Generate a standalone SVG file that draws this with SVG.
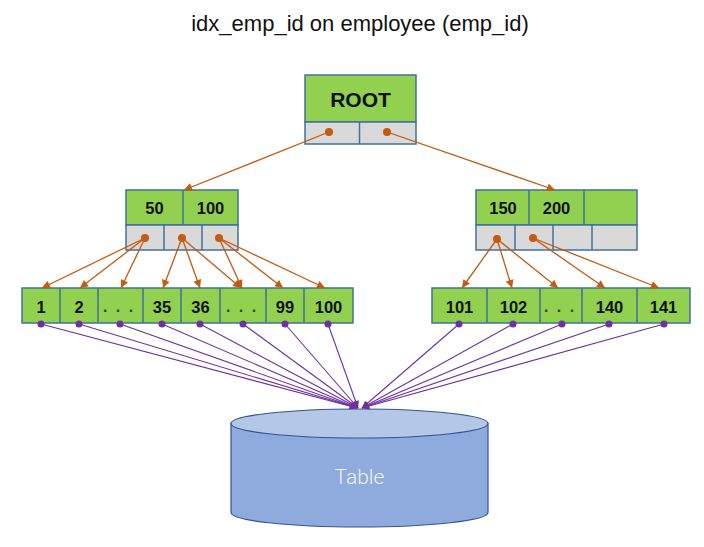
<svg xmlns="http://www.w3.org/2000/svg" width="704" height="547" viewBox="0 0 704 547">
<style>
.g{fill:#92d050;stroke:#41719c;stroke-width:1.5}
.k{fill:#d9d9d9;stroke:#41719c;stroke-width:1.5}
.dv{stroke:#41719c;stroke-width:1.5}
.t{font-family:"Liberation Sans",Arial,sans-serif;font-weight:bold;fill:#111;text-anchor:middle}
.lf{font-size:16.5px}
.dots{font-family:"Liberation Sans",Arial,sans-serif;font-weight:bold;font-size:16px;fill:#2e4a22;letter-spacing:2px;text-anchor:middle}
.o{stroke:#c55a11;stroke-width:1.3;fill:none;marker-end:url(#ao)}
.p{stroke:#7030a0;stroke-width:1.1;fill:none;marker-end:url(#ap)}
.od{fill:#c55a11}
.pd{fill:#7030a0}
</style>
<defs>
<marker id="ao" viewBox="0 0 10 10" refX="10" refY="5" markerWidth="9" markerHeight="8" markerUnits="userSpaceOnUse" orient="auto"><path d="M0,0 L10,5 L0,10 z" fill="#c55a11"/></marker>
<marker id="ap" viewBox="0 0 10 10" refX="10" refY="5" markerWidth="8" markerHeight="7" markerUnits="userSpaceOnUse" orient="auto"><path d="M0,0 L10,5 L0,10 z" fill="#7030a0"/></marker>
</defs>
<rect width="704" height="547" fill="#fff"/>
<text x="360" y="31" font-family="'Liberation Sans',Arial,sans-serif" font-size="22" fill="#111" text-anchor="middle">idx_emp_id on employee (emp_id)</text>

<g id="table">
<path d="M231,423.5 L231,512.5 A128.5,14.5 0 0 0 488,512.5 L488,423.5 Z" fill="#8faadc" stroke="#2f5597" stroke-width="1.2"/>
<ellipse cx="359.5" cy="423.5" rx="128.5" ry="14.5" fill="#b4c7e7" stroke="#2f5597" stroke-width="1.2"/>
<text x="359.5" y="484" font-family="Roboto,'Liberation Sans',sans-serif" font-weight="300" font-size="21" fill="#eef2fa" text-anchor="middle">Table</text>
</g>

<g id="root">
<rect class="g" x="305" y="75" width="111" height="47"/>
<rect class="k" x="305" y="122" width="111" height="22"/>
<line class="dv" x1="359.5" y1="122" x2="359.5" y2="144"/>
<text class="t" x="360.5" y="107" font-size="21">ROOT</text>
</g>

<g id="mid-left">
<rect class="g" x="126" y="190" width="112" height="35"/>
<rect class="k" x="126" y="225" width="112" height="25"/>
<line class="dv" x1="183" y1="190" x2="183" y2="225"/>
<line class="dv" x1="164" y1="225" x2="164" y2="250"/>
<line class="dv" x1="202" y1="225" x2="202" y2="250"/>
<text class="t lf" x="154.5" y="214">50</text>
<text class="t lf" x="210.5" y="214">100</text>
</g>

<g id="mid-right">
<rect class="g" x="476" y="190" width="161" height="35"/>
<rect class="k" x="476" y="225" width="161" height="25"/>
<line class="dv" x1="529" y1="190" x2="529" y2="225"/>
<line class="dv" x1="584" y1="190" x2="584" y2="225"/>
<line class="dv" x1="515" y1="225" x2="515" y2="250"/>
<line class="dv" x1="553" y1="225" x2="553" y2="250"/>
<line class="dv" x1="592" y1="225" x2="592" y2="250"/>
<text class="t lf" x="503" y="214">150</text>
<text class="t lf" x="556.5" y="214">200</text>
</g>

<g id="leaf-left">
<rect class="g" x="22" y="288" width="331" height="35"/>
<line class="dv" x1="60" y1="288" x2="60" y2="323"/>
<line class="dv" x1="98" y1="288" x2="98" y2="323"/>
<line class="dv" x1="143" y1="288" x2="143" y2="323"/>
<line class="dv" x1="181" y1="288" x2="181" y2="323"/>
<line class="dv" x1="220" y1="288" x2="220" y2="323"/>
<line class="dv" x1="266" y1="288" x2="266" y2="323"/>
<line class="dv" x1="304" y1="288" x2="304" y2="323"/>
<text class="t lf" x="41" y="313">1</text>
<text class="t lf" x="79" y="313">2</text>
<text class="dots" x="119" y="312">. . .</text>
<text class="t lf" x="162" y="313">35</text>
<text class="t lf" x="200.5" y="313">36</text>
<text class="dots" x="242" y="312">. . .</text>
<text class="t lf" x="285" y="313">99</text>
<text class="t lf" x="328.5" y="313">100</text>
</g>

<g id="leaf-right">
<rect class="g" x="432" y="288" width="258" height="35"/>
<line class="dv" x1="487" y1="288" x2="487" y2="323"/>
<line class="dv" x1="540" y1="288" x2="540" y2="323"/>
<line class="dv" x1="582" y1="288" x2="582" y2="323"/>
<line class="dv" x1="637" y1="288" x2="637" y2="323"/>
<text class="t lf" x="459.5" y="313">101</text>
<text class="t lf" x="513.5" y="313">102</text>
<text class="dots" x="560" y="312">. . .</text>
<text class="t lf" x="609.5" y="313">140</text>
<text class="t lf" x="663.5" y="313">141</text>
</g>

<g id="connectors">
<line class="o" x1="329" y1="132" x2="184" y2="190"/>
<line class="o" x1="387" y1="132" x2="555" y2="190"/>
<line class="o" x1="145" y1="238" x2="42" y2="288"/>
<line class="o" x1="145" y1="238" x2="80" y2="288"/>
<line class="o" x1="145" y1="238" x2="121" y2="288"/>
<line class="o" x1="182" y1="238" x2="163" y2="288"/>
<line class="o" x1="182" y1="238" x2="200" y2="288"/>
<line class="o" x1="182" y1="238" x2="241" y2="288"/>
<line class="o" x1="219" y1="238" x2="242" y2="288"/>
<line class="o" x1="219" y1="238" x2="283" y2="288"/>
<line class="o" x1="219" y1="238" x2="325" y2="288"/>
<line class="o" x1="497" y1="239" x2="462" y2="288"/>
<line class="o" x1="497" y1="239" x2="512" y2="288"/>
<line class="o" x1="497" y1="239" x2="558" y2="288"/>
<line class="o" x1="533" y1="238" x2="605" y2="288"/>
<line class="o" x1="533" y1="238" x2="659" y2="288"/>
<circle class="od" cx="329" cy="132" r="4"/>
<circle class="od" cx="387" cy="132" r="4"/>
<circle class="od" cx="145" cy="238" r="4"/>
<circle class="od" cx="182" cy="238" r="4"/>
<circle class="od" cx="219" cy="238" r="4"/>
<circle class="od" cx="497" cy="239" r="4"/>
<circle class="od" cx="533" cy="238" r="4"/>

<line class="p" x1="41" y1="324" x2="357" y2="408"/>
<line class="p" x1="79" y1="324" x2="357" y2="408"/>
<line class="p" x1="120" y1="324" x2="357" y2="408"/>
<line class="p" x1="162" y1="324" x2="357" y2="408"/>
<line class="p" x1="200" y1="324" x2="358" y2="408"/>
<line class="p" x1="243" y1="324" x2="358" y2="408"/>
<line class="p" x1="285" y1="324" x2="358" y2="408"/>
<line class="p" x1="328" y1="324" x2="358" y2="408"/>
<line class="p" x1="459" y1="324" x2="362" y2="408"/>
<line class="p" x1="513" y1="324" x2="362" y2="408"/>
<line class="p" x1="562" y1="324" x2="362" y2="408"/>
<line class="p" x1="609" y1="324" x2="362" y2="408"/>
<line class="p" x1="664" y1="324" x2="362" y2="408"/>
<circle class="pd" cx="41" cy="324" r="3.5"/>
<circle class="pd" cx="79" cy="324" r="3.5"/>
<circle class="pd" cx="120" cy="324" r="3.5"/>
<circle class="pd" cx="162" cy="324" r="3.5"/>
<circle class="pd" cx="200" cy="324" r="3.5"/>
<circle class="pd" cx="243" cy="324" r="3.5"/>
<circle class="pd" cx="285" cy="324" r="3.5"/>
<circle class="pd" cx="328" cy="324" r="3.5"/>
<circle class="pd" cx="459" cy="324" r="3.5"/>
<circle class="pd" cx="513" cy="324" r="3.5"/>
<circle class="pd" cx="562" cy="324" r="3.5"/>
<circle class="pd" cx="609" cy="324" r="3.5"/>
<circle class="pd" cx="664" cy="324" r="3.5"/>
</g>
</svg>
